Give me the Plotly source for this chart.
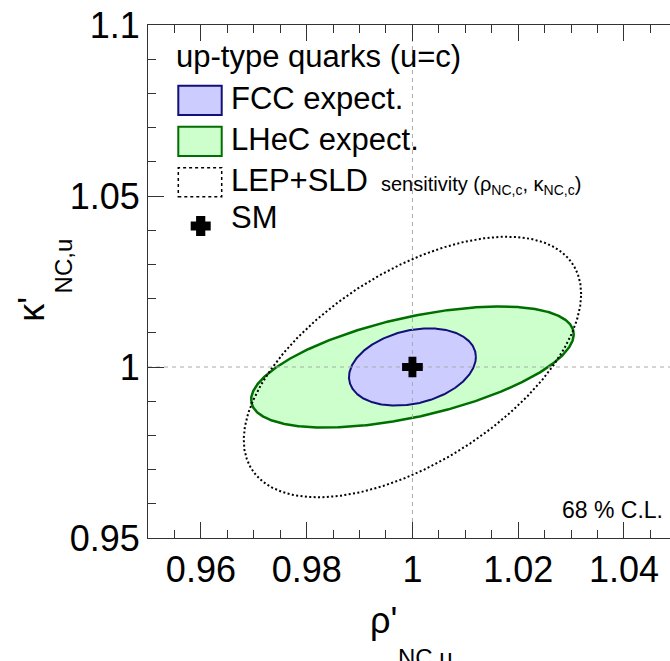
import numpy as np
import plotly.graph_objects as go

# ---------------- data ----------------
ellipse_names = ["LHeC expect.", "FCC expect.", "LEP+SLD"]
center_rho = [1.0, 1.0, 1.0]
center_kappa = [1.0, 1.0, 1.0]
sigma_rho = [0.0305, 0.0120, 0.0319]
sigma_kappa = [0.0177, 0.0113, 0.0381]
correlation = [0.54, 0.26, 0.56]

sm_rho = [1.0]
sm_kappa = [1.0]
ref_rho = 1.0
ref_kappa = 1.0

x_range = [0.95, 1.0487]
y_range = [0.95, 1.1]
x_tickvals = [0.96, 0.98, 1.0, 1.02, 1.04]
x_ticktext = ["0.96", "0.98", "1", "1.02", "1.04"]
y_tickvals = [0.95, 1.0, 1.05, 1.1]
y_ticktext = ["0.95", "1", "1.05", "1.1"]

legend_title = "up-type quarks (u=c)"
cl_label = "68 % C.L."

# ---------------- styles ----------------
FONT = "Liberation Sans, Arial, Helvetica, sans-serif"
styles = {
    "LHeC expect.": dict(fill="rgb(204,255,204)", line="rgb(0,110,0)", width=2.5, dash="solid"),
    "FCC expect.": dict(fill="rgb(204,204,255)", line="rgb(16,16,120)", width=2.0, dash="solid"),
    "LEP+SLD": dict(fill=None, line="black", width=2.0, dash="2px,2.4px"),
}

W, H = 670, 661
ML, MR, MT, MB = 148, 0, 25, 123
PW, PH = W - ML - MR, H - MT - MB


def pxx(x):
    return (x - ML) / PW


def pxy(y):
    return (H - MB - y) / PH


fig = go.Figure()

t = np.linspace(0, 2 * np.pi, 721)
for name, cx, cy, sx, sy, r in zip(ellipse_names, center_rho, center_kappa,
                                   sigma_rho, sigma_kappa, correlation):
    st = styles[name]
    ex = cx + sx * np.cos(t)
    ey = cy + sy * (r * np.cos(t) + np.sqrt(1 - r * r) * np.sin(t))
    fig.add_trace(go.Scatter(
        x=ex, y=ey, mode="lines", name=name,
        line=dict(color=st["line"], width=st["width"], dash=st["dash"]),
        fill="toself" if st["fill"] else None,
        fillcolor=st["fill"] if st["fill"] else None,
        hoverinfo="skip", showlegend=False))

# reference dashed lines through the SM point
fig.add_trace(go.Scatter(x=[ref_rho, ref_rho], y=y_range, mode="lines",
                         line=dict(color="#aaaaaa", width=1, dash="4px,4px"),
                         showlegend=False, hoverinfo="skip"))
fig.add_trace(go.Scatter(x=x_range, y=[ref_kappa, ref_kappa], mode="lines",
                         line=dict(color="#aaaaaa", width=1, dash="4px,4px"),
                         showlegend=False, hoverinfo="skip"))

# SM point
fig.add_trace(go.Scatter(x=sm_rho, y=sm_kappa, mode="markers", name="SM",
                         marker=dict(symbol="cross", size=16, color="black",
                                     line=dict(color="black", width=1.5)),
                         showlegend=False))

axis_common = dict(showgrid=False, zeroline=False, ticks="inside",
                   tickwidth=1, tickcolor="#333", ticklen=16,
                   showline=True, linecolor="#333", linewidth=1,
                   tickfont=dict(family=FONT, size=36, color="black"))

fig.update_layout(
    width=W, height=H,
    margin=dict(l=ML, r=MR, t=MT, b=MB, pad=0),
    plot_bgcolor="white", paper_bgcolor="white",
    showlegend=False,
    xaxis=dict(range=x_range, tickmode="array", tickvals=x_tickvals, ticktext=x_ticktext,
               mirror="ticks",
               minor=dict(tickmode="linear", tick0=0.95, dtick=0.005, ticklen=8,
                          ticks="inside", tickcolor="#333"),
               **axis_common),
    yaxis=dict(range=y_range, tickmode="array", tickvals=y_tickvals, ticktext=y_ticktext,
               mirror=False,
               minor=dict(tickmode="linear", tick0=0.95, dtick=0.01, ticklen=8,
                          ticks="inside", tickcolor="#333"),
               **axis_common),
    yaxis2=dict(range=y_range, overlaying="y", side="right", anchor="x",
                showgrid=False, zeroline=False, showline=False, showticklabels=False,
                tickmode="array", tickvals=y_tickvals, ticks="inside", ticklen=8,
                tickcolor="#333",
                minor=dict(tickmode="linear", tick0=0.95, dtick=0.01, ticklen=1,
                           ticks="inside", tickcolor="#333")),
)

annotations = []
shapes = []


def text(x, y, s, size, xanchor="left", yanchor="top", angle=0):
    annotations.append(dict(x=pxx(x), y=pxy(y), xref="paper", yref="paper", text=s,
                            showarrow=False, xanchor=xanchor, yanchor=yanchor,
                            textangle=angle, borderpad=0,
                            font=dict(family=FONT, size=size, color="black")))


# legend
text(175, 66 - 0.905 * 31, legend_title, 31)
legend_rows = [("FCC expect.", 85.7, 115.0, 108.3),
               ("LHeC expect.", 126.7, 156.0, 149.3),
               ("LEP+SLD", 167.7, 196.7, 190.0)]
for name, y0, y1, base in legend_rows:
    st = styles[name]
    shapes.append(dict(type="rect", xref="paper", yref="paper",
                       x0=pxx(178.3), x1=pxx(221.7), y0=pxy(y1), y1=pxy(y0),
                       fillcolor=st["fill"] if st["fill"] else "white",
                       line=dict(color=st["line"], width=2 if st["fill"] else 1.5,
                                 dash="solid" if st["fill"] else "dot")))
    text(230, base - 0.905 * 31, name, 31)
text(380, 190 - 0.905 * 20,
     "sensitivity (ρ<sub>NC,c</sub>, κ<sub>NC,c</sub>)", 20)

# legend SM cross
cxp, cyp, hl, ht = 200.7, 226.0, 10.0, 4.6
pts = [(ht, hl), (ht, ht), (hl, ht), (hl, -ht), (ht, -ht), (ht, -hl),
       (-ht, -hl), (-ht, -ht), (-hl, -ht), (-hl, ht), (-ht, ht), (-ht, hl)]
path = "M " + " L ".join(f"{pxx(cxp + a):.5f},{pxy(cyp + b):.5f}" for a, b in pts) + " Z"
shapes.append(dict(type="path", xref="paper", yref="paper", path=path,
                   fillcolor="black", line=dict(color="black", width=0)))
text(230, 226.7 - 0.905 * 31, "SM", 31)

# C.L. label
text(664, 516.7 - 0.905 * 23, cl_label, 23, xanchor="right")

# axis titles
text(383.5, 620.5, "ρ'", 36, xanchor="center", yanchor="middle")
text(425.8, 657.2, "NC,u", 24, xanchor="center", yanchor="middle")
text(30.8, 309, "κ'", 36, xanchor="center", yanchor="middle", angle=-90)
text(63.4, 266, "NC,u", 24, xanchor="center", yanchor="middle", angle=-90)

fig.update_layout(annotations=annotations, shapes=shapes)

fig.write_html("out.html")
